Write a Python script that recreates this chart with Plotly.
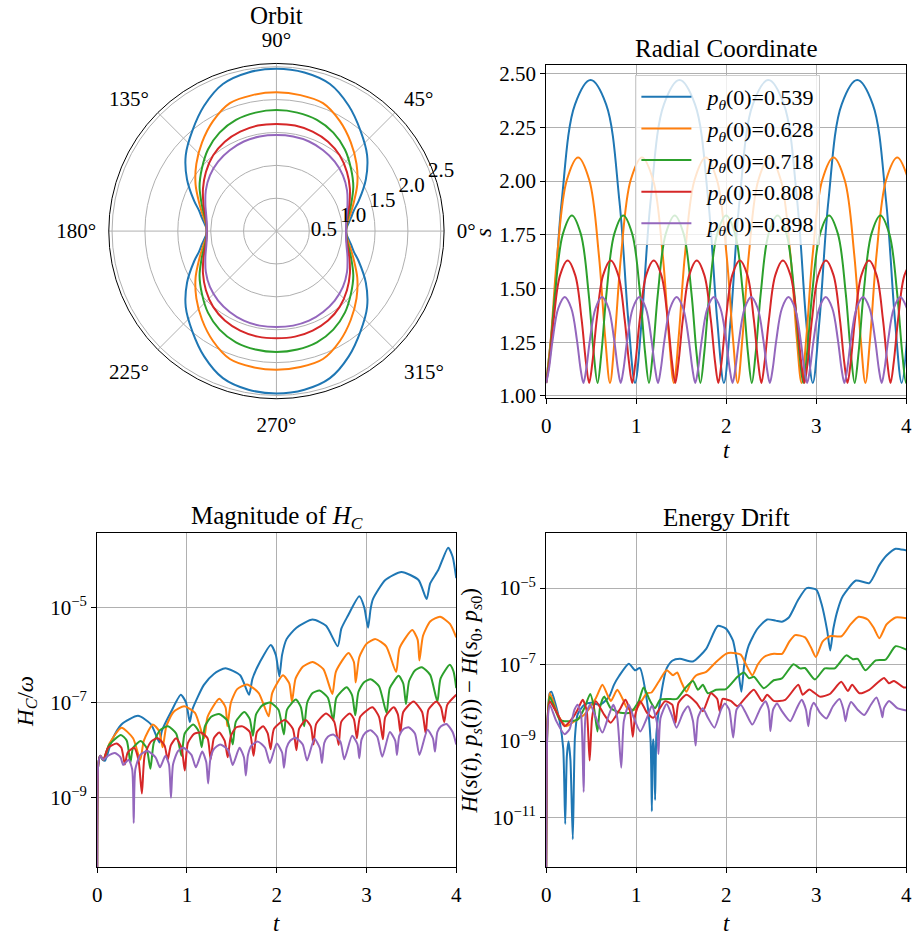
import plotly.graph_objects as go

FONT = "Liberation Serif"
C = ["#1f77b4", "#ff7f0e", "#2ca02c", "#d62728", "#9467bd"]
labels = ["0.539", "0.628", "0.718", "0.808", "0.898"]

# ---------------- Orbit (polar) ----------------
orbit_theta = [0, 3, 6, 10, 15, 20, 30, 40, 50, 60, 70, 80, 90,
               100, 110, 120, 130, 140, 150, 160, 165, 170, 174, 177, 180,
               183, 186, 190, 195, 200, 210, 220, 230, 240, 250, 260, 270,
               280, 290, 300, 310, 320, 330, 340, 345, 350, 354, 357, 360]
orbit_r_blue = [1.06, 1.07, 1.10, 1.15, 1.22, 1.33, 1.57, 1.80, 1.99, 2.20, 2.38, 2.45, 2.47,
                2.45, 2.38, 2.20, 1.99, 1.80, 1.57, 1.33, 1.22, 1.15, 1.10, 1.07, 1.06,
                1.07, 1.10, 1.15, 1.22, 1.33, 1.57, 1.80, 1.99, 2.20, 2.38, 2.45, 2.47,
                2.45, 2.38, 2.20, 1.99, 1.80, 1.57, 1.33, 1.22, 1.15, 1.10, 1.07, 1.06]
orbit_r_orange = [1.06, 1.065, 1.08, 1.12, 1.18, 1.25, 1.42, 1.59, 1.76, 1.93, 2.07, 2.10, 2.11,
                  2.10, 2.07, 1.93, 1.76, 1.59, 1.42, 1.25, 1.18, 1.12, 1.08, 1.065, 1.06,
                  1.065, 1.08, 1.12, 1.18, 1.25, 1.42, 1.59, 1.76, 1.93, 2.07, 2.10, 2.11,
                  2.10, 2.07, 1.93, 1.76, 1.59, 1.42, 1.25, 1.18, 1.12, 1.08, 1.065, 1.06]
orbit_r_green = [1.06, 1.063, 1.075, 1.10, 1.15, 1.21, 1.35, 1.48, 1.62, 1.73, 1.80, 1.83, 1.84,
                 1.83, 1.80, 1.73, 1.62, 1.48, 1.35, 1.21, 1.15, 1.10, 1.075, 1.063, 1.06,
                 1.063, 1.075, 1.10, 1.15, 1.21, 1.35, 1.48, 1.62, 1.73, 1.80, 1.83, 1.84,
                 1.83, 1.80, 1.73, 1.62, 1.48, 1.35, 1.21, 1.15, 1.10, 1.075, 1.063, 1.06]
orbit_r_red = [1.06, 1.062, 1.07, 1.09, 1.13, 1.18, 1.29, 1.40, 1.50, 1.57, 1.61, 1.63, 1.63,
               1.63, 1.61, 1.57, 1.50, 1.40, 1.29, 1.18, 1.13, 1.09, 1.07, 1.062, 1.06,
               1.062, 1.07, 1.09, 1.13, 1.18, 1.29, 1.40, 1.50, 1.57, 1.61, 1.63, 1.63,
               1.63, 1.61, 1.57, 1.50, 1.40, 1.29, 1.18, 1.13, 1.09, 1.07, 1.062, 1.06]
orbit_r_purple = [1.06, 1.061, 1.065, 1.08, 1.11, 1.15, 1.24, 1.32, 1.38, 1.42, 1.45, 1.46, 1.46,
                  1.46, 1.45, 1.42, 1.38, 1.32, 1.24, 1.15, 1.11, 1.08, 1.065, 1.061, 1.06,
                  1.061, 1.065, 1.08, 1.11, 1.15, 1.24, 1.32, 1.38, 1.42, 1.45, 1.46, 1.46,
                  1.46, 1.45, 1.42, 1.38, 1.32, 1.24, 1.15, 1.11, 1.08, 1.065, 1.061, 1.06]

# ---------------- Radial coordinate s(t) ----------------
s_t_blue = [0, 0.074, 0.173, 0.321, 0.494, 0.666, 0.814, 0.913,
            0.987, 1.061, 1.160, 1.308, 1.481, 1.653, 1.801, 1.900,
            1.974, 2.048, 2.147, 2.295, 2.468, 2.640, 2.788, 2.887,
            2.961, 3.035, 3.134, 3.282, 3.455, 3.627, 3.775, 3.874,
            3.948, 4.022]
s_blue = [1.06, 1.35, 1.906, 2.357, 2.47, 2.357, 1.906, 1.35,
          1.06, 1.35, 1.906, 2.357, 2.47, 2.357, 1.906, 1.35,
          1.06, 1.35, 1.906, 2.357, 2.47, 2.357, 1.906, 1.35,
          1.06, 1.35, 1.906, 2.357, 2.47, 2.357, 1.906, 1.35,
          1.06, 1.35]
s_t_orange = [0, 0.053, 0.124, 0.230, 0.355, 0.479, 0.585, 0.656,
              0.709, 0.762, 0.833, 0.939, 1.064, 1.188, 1.294, 1.365,
              1.418, 1.471, 1.542, 1.648, 1.773, 1.897, 2.003, 2.074,
              2.127, 2.180, 2.251, 2.357, 2.482, 2.606, 2.712, 2.783,
              2.836, 2.889, 2.960, 3.066, 3.191, 3.315, 3.421, 3.492,
              3.545, 3.598, 3.669, 3.775, 3.900, 4.024]
s_orange = [1.06, 1.27, 1.659, 2.005, 2.11, 2.005, 1.659, 1.27,
            1.06, 1.27, 1.659, 2.005, 2.11, 2.005, 1.659, 1.27,
            1.06, 1.27, 1.659, 2.005, 2.11, 2.005, 1.659, 1.27,
            1.06, 1.27, 1.659, 2.005, 2.11, 2.005, 1.659, 1.27,
            1.06, 1.27, 1.659, 2.005, 2.11, 2.005, 1.659, 1.27,
            1.06, 1.27, 1.659, 2.005, 2.11, 2.005]
s_t_green = [0, 0.043, 0.100, 0.186, 0.286, 0.385, 0.471, 0.528,
             0.571, 0.614, 0.671, 0.757, 0.857, 0.956, 1.042, 1.099,
             1.142, 1.185, 1.242, 1.328, 1.428, 1.527, 1.613, 1.670,
             1.713, 1.756, 1.813, 1.899, 1.999, 2.098, 2.184, 2.241,
             2.284, 2.327, 2.384, 2.470, 2.570, 2.669, 2.755, 2.812,
             2.855, 2.898, 2.955, 3.041, 3.141, 3.240, 3.326, 3.383,
             3.426, 3.469, 3.526, 3.612, 3.712, 3.811, 3.897, 3.954,
             3.997, 4.040]
s_green = [1.06, 1.20, 1.481, 1.754, 1.84, 1.754, 1.481, 1.20,
           1.06, 1.20, 1.481, 1.754, 1.84, 1.754, 1.481, 1.20,
           1.06, 1.20, 1.481, 1.754, 1.84, 1.754, 1.481, 1.20,
           1.06, 1.20, 1.481, 1.754, 1.84, 1.754, 1.481, 1.20,
           1.06, 1.20, 1.481, 1.754, 1.84, 1.754, 1.481, 1.20,
           1.06, 1.20, 1.481, 1.754, 1.84, 1.754, 1.481, 1.20,
           1.06, 1.20, 1.481, 1.754, 1.84, 1.754, 1.481, 1.20,
           1.06, 1.20]
s_t_red = [0, 0.036, 0.084, 0.155, 0.239, 0.323, 0.394, 0.442,
           0.478, 0.514, 0.562, 0.633, 0.717, 0.801, 0.872, 0.920,
           0.956, 0.992, 1.040, 1.111, 1.195, 1.279, 1.350, 1.398,
           1.434, 1.470, 1.518, 1.589, 1.673, 1.757, 1.828, 1.876,
           1.912, 1.948, 1.996, 2.067, 2.151, 2.235, 2.306, 2.354,
           2.390, 2.426, 2.474, 2.545, 2.629, 2.713, 2.784, 2.832,
           2.868, 2.904, 2.952, 3.023, 3.107, 3.191, 3.262, 3.310,
           3.346, 3.382, 3.430, 3.501, 3.585, 3.669, 3.740, 3.788,
           3.824, 3.860, 3.908, 3.979, 4.063]
s_red = [1.06, 1.157, 1.356, 1.562, 1.63, 1.562, 1.356, 1.157,
         1.06, 1.157, 1.356, 1.562, 1.63, 1.562, 1.356, 1.157,
         1.06, 1.157, 1.356, 1.562, 1.63, 1.562, 1.356, 1.157,
         1.06, 1.157, 1.356, 1.562, 1.63, 1.562, 1.356, 1.157,
         1.06, 1.157, 1.356, 1.562, 1.63, 1.562, 1.356, 1.157,
         1.06, 1.157, 1.356, 1.562, 1.63, 1.562, 1.356, 1.157,
         1.06, 1.157, 1.356, 1.562, 1.63, 1.562, 1.356, 1.157,
         1.06, 1.157, 1.356, 1.562, 1.63, 1.562, 1.356, 1.157,
         1.06, 1.157, 1.356, 1.562, 1.63]
s_t_purple = [0, 0.031, 0.072, 0.135, 0.207, 0.279, 0.342, 0.383,
              0.414, 0.445, 0.486, 0.549, 0.621, 0.693, 0.756, 0.797,
              0.828, 0.859, 0.900, 0.963, 1.035, 1.107, 1.170, 1.211,
              1.242, 1.273, 1.314, 1.377, 1.449, 1.521, 1.584, 1.625,
              1.656, 1.687, 1.728, 1.791, 1.863, 1.935, 1.998, 2.039,
              2.070, 2.101, 2.142, 2.205, 2.277, 2.349, 2.412, 2.453,
              2.484, 2.515, 2.556, 2.619, 2.691, 2.763, 2.826, 2.867,
              2.898, 2.929, 2.970, 3.033, 3.105, 3.177, 3.240, 3.281,
              3.312, 3.343, 3.384, 3.447, 3.519, 3.591, 3.654, 3.695,
              3.726, 3.757, 3.798, 3.861, 3.933, 4.005]
s_purple = [1.06, 1.124, 1.26, 1.408, 1.46, 1.408, 1.26, 1.124,
            1.06, 1.124, 1.26, 1.408, 1.46, 1.408, 1.26, 1.124,
            1.06, 1.124, 1.26, 1.408, 1.46, 1.408, 1.26, 1.124,
            1.06, 1.124, 1.26, 1.408, 1.46, 1.408, 1.26, 1.124,
            1.06, 1.124, 1.26, 1.408, 1.46, 1.408, 1.26, 1.124,
            1.06, 1.124, 1.26, 1.408, 1.46, 1.408, 1.26, 1.124,
            1.06, 1.124, 1.26, 1.408, 1.46, 1.408, 1.26, 1.124,
            1.06, 1.124, 1.26, 1.408, 1.46, 1.408, 1.26, 1.124,
            1.06, 1.124, 1.26, 1.408, 1.46, 1.408, 1.26, 1.124,
            1.06, 1.124, 1.26, 1.408, 1.46, 1.408]

# ---------------- Magnitude of H_C : (t, value) ----------------
hc_blue = [(0, 1e-11), (0.012, 5.01e-9), (0.033, 7.59e-9), (0.06, 6.31e-9), (0.088, 6.03e-9),
           (0.16, 1.55e-8), (0.27, 3.47e-8), (0.455, 5.25e-8), (0.60, 3.47e-8), (0.694, 1.45e-8),
           (0.72, 2.51e-8), (0.822, 6.31e-8), (0.932, 1.45e-7), (0.99, 1.0e-7), (1.032, 3.89e-8),
           (1.06, 7.08e-8), (1.189, 2.34e-7), (1.30, 3.98e-7), (1.428, 5.25e-7), (1.593, 3.72e-7),
           (1.692, 1.45e-7), (1.73, 3.16e-7), (1.813, 7.08e-7), (1.935, 1.62e-6), (1.99, 1.0e-6),
           (2.03, 3.55e-7), (2.06, 1.0e-6), (2.11, 2.14e-6), (2.22, 3.72e-6), (2.40, 5.50e-6),
           (2.55, 4.07e-6), (2.68, 1.51e-6), (2.72, 3.55e-6), (2.79, 6.46e-6), (2.92, 1.70e-5),
           (2.975, 1.0e-5), (3.018, 3.72e-6), (3.045, 8.91e-6), (3.07, 1.45e-5), (3.21, 3.72e-5),
           (3.39, 5.50e-5), (3.58, 3.72e-5), (3.67, 1.48e-5), (3.71, 3.16e-5), (3.80, 6.03e-5),
           (3.91, 1.78e-4), (3.96, 1.15e-4), (4.0, 4.07e-5)]
hc_orange = [(0, 1e-11), (0.012, 5.01e-9), (0.033, 7.59e-9), (0.07, 6.31e-9), (0.14, 1.41e-8),
             (0.27, 2.95e-8), (0.40, 1.78e-8), (0.48, 6.31e-9), (0.52, 1.58e-8), (0.62, 3.47e-8),
             (0.69, 2.51e-8), (0.73, 1.15e-8), (0.77, 3.16e-8), (0.85, 6.31e-8), (0.97, 8.32e-8),
             (1.09, 6.03e-8), (1.19, 1.78e-8), (1.23, 5.01e-8), (1.36, 1.20e-7), (1.43, 7.94e-8),
             (1.45, 3.16e-8), (1.49, 1.0e-7), (1.56, 1.91e-7), (1.67, 2.40e-7), (1.80, 1.58e-7),
             (1.91, 5.13e-8), (1.95, 1.58e-7), (2.07, 3.72e-7), (2.14, 2.51e-7), (2.17, 1.05e-7),
             (2.21, 3.16e-7), (2.29, 5.62e-7), (2.40, 7.08e-7), (2.52, 5.01e-7), (2.62, 1.51e-7),
             (2.66, 4.47e-7), (2.80, 1.10e-6), (2.86, 7.08e-7), (2.88, 2.63e-7), (2.92, 8.91e-7),
             (3.0, 1.70e-6), (3.10, 2.14e-6), (3.22, 1.51e-6), (3.33, 4.37e-7), (3.37, 1.41e-6),
             (3.51, 3.31e-6), (3.57, 2.09e-6), (3.59, 7.59e-7), (3.63, 2.51e-6), (3.71, 5.01e-6),
             (3.82, 6.31e-6), (3.93, 4.47e-6), (4.0, 2.34e-6)]
hc_green = [(0, 1e-11), (0.012, 5.01e-9), (0.033, 7.59e-9), (0.07, 6.31e-9), (0.13, 1.26e-8),
            (0.264, 2.09e-8), (0.33, 1.58e-8), (0.37, 5.50e-9), (0.40, 1.12e-8), (0.485, 1.55e-8),
            (0.55, 1.12e-8), (0.593, 4.07e-9), (0.63, 1.41e-8), (0.70, 2.63e-8), (0.79, 3.16e-8),
            (0.88, 2.24e-8), (0.94, 7.59e-9), (0.975, 2.24e-8), (1.07, 3.47e-8), (1.13, 2.51e-8),
            (1.164, 1.15e-8), (1.20, 3.16e-8), (1.27, 5.01e-8), (1.358, 5.75e-8), (1.45, 4.17e-8),
            (1.51, 1.32e-8), (1.545, 3.98e-8), (1.64, 6.31e-8), (1.70, 4.47e-8), (1.735, 2.0e-8),
            (1.77, 5.62e-8), (1.84, 8.71e-8), (1.927, 1.0e-7), (2.02, 7.08e-8), (2.08, 2.14e-8),
            (2.115, 7.08e-8), (2.214, 1.15e-7), (2.27, 7.94e-8), (2.306, 3.16e-8), (2.34, 1.0e-7),
            (2.40, 1.58e-7), (2.478, 1.78e-7), (2.57, 1.26e-7), (2.63, 4.17e-8), (2.665, 1.26e-7),
            (2.78, 2.09e-7), (2.84, 1.41e-7), (2.875, 5.37e-8), (2.91, 1.66e-7), (2.97, 2.63e-7),
            (3.047, 3.09e-7), (3.14, 2.19e-7), (3.224, 6.03e-8), (3.26, 2.0e-7), (3.359, 3.63e-7),
            (3.41, 2.51e-7), (3.44, 9.33e-8), (3.475, 2.82e-7), (3.54, 4.68e-7), (3.616, 5.50e-7),
            (3.71, 3.80e-7), (3.79, 1.05e-7), (3.825, 3.16e-7), (3.928, 6.17e-7), (3.97, 4.47e-7),
            (4.0, 2.0e-7)]
hc_red = [(0, 1e-11), (0.012, 5.01e-9), (0.033, 7.59e-9), (0.07, 6.31e-9), (0.12, 1.12e-8),
          (0.217, 1.38e-8), (0.27, 1.12e-8), (0.308, 5.01e-9), (0.34, 8.91e-9), (0.41, 1.12e-8),
          (0.46, 6.31e-9), (0.498, 1.23e-9), (0.53, 7.94e-9), (0.60, 1.51e-8), (0.675, 1.78e-8),
          (0.75, 1.26e-8), (0.786, 6.31e-9), (0.82, 1.26e-8), (0.88, 1.78e-8), (0.94, 1.12e-8),
          (0.976, 3.72e-9), (1.01, 1.41e-8), (1.08, 2.19e-8), (1.156, 2.34e-8), (1.23, 1.78e-8),
          (1.264, 6.46e-9), (1.30, 1.78e-8), (1.36, 2.34e-8), (1.42, 1.58e-8), (1.454, 7.08e-9),
          (1.49, 2.0e-8), (1.55, 3.02e-8), (1.62, 3.16e-8), (1.70, 2.40e-8), (1.742, 7.59e-9),
          (1.78, 2.40e-8), (1.85, 3.16e-8), (1.90, 2.24e-8), (1.932, 1.05e-8), (1.97, 2.82e-8),
          (2.09, 4.27e-8), (2.18, 2.82e-8), (2.22, 1.0e-8), (2.25, 2.82e-8), (2.324, 4.27e-8),
          (2.38, 3.16e-8), (2.41, 1.32e-8), (2.44, 3.55e-8), (2.55, 5.89e-8), (2.64, 3.98e-8),
          (2.69, 1.29e-8), (2.72, 3.98e-8), (2.815, 5.89e-8), (2.86, 4.47e-8), (2.893, 1.78e-8),
          (2.93, 5.01e-8), (3.066, 7.94e-8), (3.14, 5.01e-8), (3.183, 1.70e-8), (3.21, 5.01e-8),
          (3.304, 7.94e-8), (3.35, 5.62e-8), (3.378, 2.34e-8), (3.41, 6.31e-8), (3.524, 1.05e-7),
          (3.62, 6.31e-8), (3.66, 2.24e-8), (3.69, 7.08e-8), (3.78, 1.05e-7), (3.83, 7.94e-8),
          (3.866, 3.89e-8), (3.90, 8.91e-8), (4.0, 1.45e-7)]
hc_purple = [(0, 1e-11), (0.012, 5.01e-9), (0.033, 7.59e-9), (0.07, 6.31e-9), (0.12, 7.59e-9),
             (0.198, 8.71e-9), (0.26, 7.08e-9), (0.29, 4.90e-9), (0.35, 6.31e-9), (0.39, 3.98e-9),
             (0.407, 2.95e-10), (0.425, 3.98e-9), (0.48, 7.94e-9), (0.56, 9.55e-9), (0.65, 7.08e-9),
             (0.70, 4.37e-9), (0.76, 7.59e-9), (0.80, 5.01e-9), (0.822, 1.0e-9), (0.845, 5.01e-9),
             (0.90, 9.55e-9), (0.96, 1.12e-8), (1.05, 7.94e-9), (1.10, 4.37e-9), (1.17, 9.33e-9),
             (1.215, 5.62e-9), (1.236, 2.0e-9), (1.26, 6.31e-9), (1.30, 1.05e-8), (1.37, 1.32e-8),
             (1.46, 1.0e-8), (1.51, 4.90e-9), (1.585, 1.12e-8), (1.635, 7.08e-9), (1.656, 2.95e-9),
             (1.68, 7.94e-9), (1.72, 1.26e-8), (1.79, 1.51e-8), (1.87, 1.12e-8), (1.924, 5.37e-9),
             (2.0, 1.38e-8), (2.06, 8.91e-9), (2.081, 4.27e-9), (2.11, 1.12e-8), (2.15, 1.58e-8),
             (2.21, 1.82e-8), (2.29, 1.32e-8), (2.338, 6.03e-9), (2.42, 1.74e-8), (2.48, 1.12e-8),
             (2.504, 5.37e-9), (2.53, 1.41e-8), (2.57, 1.91e-8), (2.63, 2.14e-8), (2.71, 1.51e-8),
             (2.753, 6.46e-9), (2.84, 2.0e-8), (2.90, 1.32e-8), (2.92, 6.76e-9), (2.945, 1.66e-8),
             (2.99, 2.34e-8), (3.047, 2.63e-8), (3.12, 1.91e-8), (3.176, 7.24e-9), (3.26, 2.40e-8),
             (3.32, 1.58e-8), (3.34, 7.94e-9), (3.365, 2.0e-8), (3.41, 2.75e-8), (3.469, 3.02e-8),
             (3.54, 2.24e-8), (3.59, 7.94e-9), (3.68, 2.69e-8), (3.74, 1.78e-8), (3.763, 9.33e-9),
             (3.79, 2.40e-8), (3.83, 3.16e-8), (3.891, 3.55e-8), (3.96, 2.40e-8), (4.0, 1.32e-8)]

# ---------------- Energy drift : (t, value) ----------------
ed_blue = [(0, 3e-13), (0.015, 3.16e-9), (0.04, 1.78e-8), (0.059, 1.95e-8), (0.10, 1.0e-8),
           (0.15, 3.31e-9), (0.19, 6.31e-10), (0.212, 6.76e-12), (0.23, 3.98e-10), (0.249, 9.77e-10),
           (0.27, 3.16e-10), (0.296, 2.69e-12), (0.32, 1.26e-9), (0.35, 5.01e-9), (0.424, 8.91e-9),
           (0.50, 1.0e-8), (0.60, 8.91e-9), (0.70, 1.45e-8), (0.753, 2.95e-8), (0.81, 5.01e-8),
           (0.918, 1.05e-7), (0.99, 7.08e-8), (1.04, 8.13e-8), (1.12, 1.10e-8), (1.16, 1.0e-9),
           (1.174, 1.45e-11), (1.183, 6.31e-10), (1.19, 1.12e-9), (1.20, 5.01e-10), (1.21, 2.88e-11),
           (1.225, 1.58e-9), (1.265, 1.10e-8), (1.338, 7.94e-8), (1.40, 1.26e-7), (1.485, 1.41e-7),
           (1.63, 1.20e-7), (1.777, 2.57e-7), (1.905, 1.02e-6), (1.997, 8.71e-7), (2.074, 4.27e-7),
           (2.128, 8.71e-8), (2.168, 1.95e-8), (2.20, 1.0e-7), (2.25, 3.16e-7), (2.344, 8.51e-7),
           (2.454, 1.51e-6), (2.55, 1.41e-6), (2.618, 1.32e-6), (2.695, 1.70e-6), (2.80, 5.01e-6),
           (2.893, 1.0e-5), (3.0, 9.12e-6), (3.06, 3.72e-6), (3.12, 7.94e-7), (3.155, 2.34e-7),
           (3.19, 8.91e-7), (3.24, 2.82e-6), (3.295, 6.17e-6), (3.44, 1.58e-5), (3.588, 1.35e-5),
           (3.70, 3.98e-5), (3.78, 7.08e-5), (3.88, 1.07e-4), (3.99, 9.77e-5), (4.0, 9.77e-5)]
ed_orange = [(0, 3e-13), (0.015, 3.16e-9), (0.04, 1.78e-8), (0.07, 1.26e-8), (0.13, 4.90e-9),
             (0.223, 2.45e-9), (0.315, 3.31e-9), (0.424, 4.90e-9), (0.552, 1.32e-8), (0.625, 2.95e-8),
             (0.68, 1.62e-8), (0.72, 1.12e-8), (0.79, 2.19e-8), (0.85, 1.26e-8), (0.90, 7.24e-9),
             (0.99, 6.61e-9), (1.06, 1.12e-8), (1.12, 1.78e-8), (1.17, 1.86e-8), (1.25, 3.55e-8),
             (1.338, 7.08e-8), (1.41, 5.25e-8), (1.455, 6.17e-8), (1.50, 3.55e-8), (1.558, 1.95e-8),
             (1.61, 3.55e-8), (1.668, 5.25e-8), (1.777, 6.46e-8), (1.887, 1.17e-7), (1.997, 1.91e-7),
             (2.05, 2.04e-7), (2.16, 1.82e-7), (2.23, 8.91e-8), (2.29, 5.25e-8), (2.35, 1.0e-7),
             (2.42, 1.58e-7), (2.53, 1.91e-7), (2.62, 1.91e-7), (2.70, 3.98e-7), (2.765, 5.89e-7),
             (2.875, 5.13e-7), (2.94, 2.82e-7), (2.995, 1.58e-7), (3.07, 3.98e-7), (3.15, 5.50e-7),
             (3.28, 5.50e-7), (3.38, 1.12e-6), (3.47, 1.78e-6), (3.57, 1.51e-6), (3.64, 8.91e-7),
             (3.70, 4.90e-7), (3.78, 1.12e-6), (3.88, 1.70e-6), (4.0, 1.62e-6)]
ed_green = [(0, 3e-13), (0.015, 3.16e-9), (0.04, 1.45e-8), (0.08, 8.91e-9), (0.15, 3.63e-9),
            (0.205, 3.31e-9), (0.35, 3.63e-9), (0.424, 7.24e-9), (0.49, 1.70e-8), (0.53, 7.94e-9),
            (0.57, 1.78e-9), (0.60, 7.94e-9), (0.644, 1.45e-8), (0.717, 7.24e-9), (0.826, 5.50e-9),
            (0.936, 5.50e-9), (1.028, 1.10e-8), (1.082, 2.51e-8), (1.156, 1.10e-8), (1.21, 7.24e-9),
            (1.265, 1.20e-8), (1.35, 1.26e-8), (1.45, 1.26e-8), (1.55, 2.51e-8), (1.631, 3.72e-8),
            (1.686, 2.19e-8), (1.74, 2.95e-8), (1.796, 1.78e-8), (1.887, 2.19e-8), (1.997, 2.29e-8),
            (2.125, 4.79e-8), (2.198, 6.17e-8), (2.253, 4.37e-8), (2.307, 4.79e-8), (2.417, 2.40e-8),
            (2.527, 3.89e-8), (2.618, 4.37e-8), (2.747, 1.02e-7), (2.82, 7.94e-8), (2.874, 8.13e-8),
            (2.984, 4.07e-8), (3.094, 7.94e-8), (3.204, 7.94e-8), (3.332, 1.74e-7), (3.405, 1.38e-7),
            (3.46, 1.41e-7), (3.544, 7.08e-8), (3.66, 1.29e-7), (3.77, 1.35e-7), (3.88, 3.02e-7),
            (4.0, 2.45e-7)]
ed_red = [(0, 3e-13), (0.015, 3.16e-9), (0.04, 1.10e-8), (0.08, 7.94e-9), (0.13, 4.90e-9),
          (0.205, 2.45e-9), (0.296, 4.07e-9), (0.35, 6.61e-9), (0.406, 1.20e-8), (0.45, 6.31e-9),
          (0.483, 3.09e-10), (0.51, 3.98e-9), (0.552, 1.10e-8), (0.644, 4.90e-9), (0.717, 3.02e-9),
          (0.826, 7.24e-9), (0.88, 1.20e-8), (0.93, 6.31e-9), (0.962, 1.29e-9), (0.99, 4.90e-9),
          (1.046, 1.10e-8), (1.12, 5.50e-9), (1.19, 4.07e-9), (1.32, 1.10e-8), (1.40, 8.91e-9),
          (1.437, 3.02e-9), (1.47, 1.0e-8), (1.558, 1.62e-8), (1.668, 1.0e-8), (1.74, 6.03e-9),
          (1.83, 1.78e-8), (1.90, 1.26e-8), (1.927, 6.03e-9), (1.96, 1.26e-8), (2.05, 1.12e-8),
          (2.125, 8.13e-9), (2.22, 1.41e-8), (2.307, 2.19e-8), (2.399, 1.10e-8), (2.454, 1.62e-8),
          (2.527, 1.12e-8), (2.655, 1.20e-8), (2.8, 2.95e-8), (2.849, 1.62e-8), (2.922, 2.24e-8),
          (3.04, 1.45e-8), (3.15, 1.70e-8), (3.277, 3.55e-8), (3.35, 2.04e-8), (3.398, 2.95e-8),
          (3.478, 1.78e-8), (3.588, 2.19e-8), (3.752, 4.47e-8), (3.807, 3.24e-8), (3.862, 3.72e-8),
          (3.97, 2.51e-8), (4.0, 2.51e-8)]
ed_purple = [(0, 3e-13), (0.015, 2.51e-9), (0.04, 8.91e-9), (0.113, 3.31e-9), (0.205, 1.51e-9),
             (0.26, 2.04e-9), (0.315, 6.61e-9), (0.35, 8.91e-9), (0.388, 4.90e-9), (0.417, 4.68e-11),
             (0.44, 4.90e-9), (0.49, 8.91e-9), (0.552, 4.07e-9), (0.625, 1.66e-9), (0.698, 4.90e-9),
             (0.746, 8.91e-9), (0.79, 4.07e-9), (0.834, 2.0e-10), (0.863, 3.31e-9), (0.918, 8.91e-9),
             (0.973, 4.07e-9), (1.046, 1.78e-9), (1.12, 4.07e-9), (1.174, 8.32e-9), (1.229, 3.16e-9),
             (1.247, 4.57e-10), (1.27, 3.98e-9), (1.338, 9.33e-9), (1.393, 4.90e-9), (1.448, 2.24e-9),
             (1.521, 5.50e-9), (1.576, 8.13e-9), (1.631, 3.31e-9), (1.66, 7.59e-10), (1.686, 4.07e-9),
             (1.74, 7.24e-9), (1.796, 4.07e-9), (1.869, 2.24e-9), (1.942, 6.61e-9), (1.985, 9.55e-9),
             (2.033, 6.61e-9), (2.077, 1.23e-9), (2.114, 6.61e-9), (2.161, 8.91e-9), (2.216, 5.50e-9),
             (2.29, 2.69e-9), (2.38, 7.24e-9), (2.436, 1.10e-8), (2.472, 6.61e-9), (2.49, 1.82e-9),
             (2.52, 6.61e-9), (2.563, 9.55e-9), (2.618, 6.03e-9), (2.71, 3.31e-9), (2.783, 7.24e-9),
             (2.838, 1.20e-8), (2.885, 6.61e-9), (2.911, 2.45e-9), (2.937, 6.61e-9), (2.973, 1.0e-8),
             (3.04, 5.50e-9), (3.112, 3.89e-9), (3.185, 8.13e-9), (3.258, 1.26e-8), (3.302, 6.61e-9),
             (3.324, 3.31e-9), (3.35, 6.61e-9), (3.386, 1.05e-8), (3.459, 6.61e-9), (3.533, 4.79e-9),
             (3.606, 8.91e-9), (3.668, 1.38e-8), (3.716, 6.61e-9), (3.734, 4.17e-9), (3.752, 7.24e-9),
             (3.807, 1.12e-8), (3.899, 7.24e-9), (4.0, 6.31e-9)]

orbit_r = [orbit_r_blue, orbit_r_orange, orbit_r_green, orbit_r_red, orbit_r_purple]
s_t = [s_t_blue, s_t_orange, s_t_green, s_t_red, s_t_purple]
s_v = [s_blue, s_orange, s_green, s_red, s_purple]
hc = [hc_blue, hc_orange, hc_green, hc_red, hc_purple]
ed = [ed_blue, ed_orange, ed_green, ed_red, ed_purple]

fig = go.Figure()
for i in range(5):
    fig.add_trace(go.Scatterpolar(r=orbit_r[i], theta=orbit_theta, mode="lines", subplot="polar",
                                  line=dict(color=C[i], width=2, shape="spline", smoothing=0.9),
                                  showlegend=False, hoverinfo="skip"))
for i in range(5):
    fig.add_trace(go.Scatter(x=s_t[i], y=s_v[i], mode="lines", xaxis="x", yaxis="y",
                             line=dict(color=C[i], width=2, shape="spline", smoothing=1.0),
                             name="\u00a0\u00a0<i>p</i><sub><i>θ</i></sub>(0)=" + labels[i]))
for i in range(5):
    fig.add_trace(go.Scatter(x=[p[0] for p in hc[i]], y=[p[1] for p in hc[i]], mode="lines",
                             xaxis="x2", yaxis="y2", showlegend=False,
                             line=dict(color=C[i], width=2, shape="spline", smoothing=0.6)))
for i in range(5):
    fig.add_trace(go.Scatter(x=[p[0] for p in ed[i]], y=[p[1] for p in ed[i]], mode="lines",
                             xaxis="x3", yaxis="y3", showlegend=False,
                             line=dict(color=C[i], width=2, shape="spline", smoothing=0.6)))

GRID = "#b0b0b0"
TICKF = dict(size=21, family=FONT, color="black")
ax = dict(showgrid=True, gridcolor=GRID, gridwidth=0.8, showline=True, linecolor="black",
          linewidth=1, mirror=True, ticks="outside", ticklen=5, tickwidth=1, tickcolor="black",
          zeroline=False, tickfont=TICKF)
tx = dict(range=[0, 4], tickvals=[0, 1, 2, 3, 4], ticktext=["0", "1", "2", "3", "4"],
          ticklabelstandoff=3)

def sup(n):
    return "10<sup>−%d</sup>" % n

fig.update_layout(
    width=920, height=937, autosize=False,
    margin=dict(l=0, r=0, t=0, b=0),
    paper_bgcolor="white", plot_bgcolor="white",
    font=dict(family=FONT, size=20, color="black"),
    polar=dict(
        domain=dict(x=[0.1138, 0.4834], y=[0.5717, 0.9346]),
        bgcolor="white",
        angularaxis=dict(direction="counterclockwise", rotation=0, tickmode="array",
                         tickvals=[0, 45, 90, 135, 180, 225, 270, 315],
                         ticktext=["0°", "45°", "90°", "135°", "180°", "225°", "270°", "315°"],
                         showgrid=True, gridcolor=GRID, gridwidth=0.8, showline=True,
                         linecolor="black", linewidth=1, ticks="outside", ticklen=8,
                         tickcolor="rgba(0,0,0,0)",
                         tickfont=dict(size=21, family=FONT, color="black")),
        radialaxis=dict(range=[0, 2.55], tickmode="array", tickvals=[0.5, 1.0, 1.5, 2.0, 2.5],
                        ticktext=["0.5", "1.0", "1.5", "2.0", "2.5"],
                        angle=27, tickangle=27, side="clockwise",
                        showline=False, showgrid=True, gridcolor=GRID, gridwidth=0.8, ticks="",
                        tickfont=dict(size=21, family=FONT, color="black")),
    ),
    xaxis=dict(ax, domain=[0.5953, 0.9916], anchor="y", **tx),
    yaxis=dict(ax, domain=[0.5720, 0.9331], anchor="x", range=[0.988, 2.541],
               tickvals=[1.0, 1.25, 1.5, 1.75, 2.0, 2.25, 2.5],
               ticktext=["1.00", "1.25", "1.50", "1.75", "2.00", "2.25", "2.50"]),
    xaxis2=dict(ax, domain=[0.1014, 0.4964], anchor="y2", **tx),
    yaxis2=dict(ax, domain=[0.0644, 0.4261], anchor="x2", type="log", range=[-10.463, -3.448],
                tickvals=[1e-9, 1e-7, 1e-5], ticktext=[sup(9), sup(7), sup(5)]),
    xaxis3=dict(ax, domain=[0.5953, 0.9916], anchor="y3", **tx),
    yaxis3=dict(ax, domain=[0.0644, 0.4261], anchor="x3", type="log", range=[-12.307, -3.567],
                tickvals=[1e-11, 1e-9, 1e-7, 1e-5], ticktext=[sup(11), sup(9), sup(7), sup(5)]),
    legend=dict(x=0.6935, y=0.922, xanchor="left", yanchor="top",
                bgcolor="rgba(255,255,255,0.8)", bordercolor="#cccccc", borderwidth=1,
                font=dict(size=22, family=FONT, color="black"), itemwidth=50),
)

TF = dict(family=FONT, size=25, color="black")
LF = dict(family=FONT, size=23, color="black")
ann = [
    dict(text="Orbit", x=0.2989, y=0.9865, font=TF),
    dict(text="Radial Coordinate", x=0.7935, y=0.9509, font=TF),
    dict(text="Magnitude of <i>H</i><sub><i>C</i></sub>", x=0.2989, y=0.4432, font=TF),
    dict(text="Energy Drift", x=0.7935, y=0.4432, font=TF),
    dict(text="<i>t</i>", x=0.7935, y=0.5155, font=LF),
    dict(text="<i>t</i>", x=0.2989, y=0.004, font=LF),
    dict(text="<i>t</i>", x=0.7935, y=0.004, font=LF),
    dict(text="<i>s</i>", x=0.5272, y=0.7513, font=LF, textangle=-90),
    dict(text="<i>H</i><sub><i>C</i></sub>/<i>ω</i>", x=0.0239, y=0.2444, font=LF, textangle=-90),
    dict(text="<i>H</i>(<i>s</i>(<i>t</i>), <i>p</i><sub><i>s</i></sub>(<i>t</i>)) − <i>H</i>(<i>s</i><sub>0</sub>, <i>p</i><sub><i>s</i>0</sub>)",
         x=0.513, y=0.2444, font=LF, textangle=-90),
]
for a in ann:
    a.update(xref="paper", yref="paper", showarrow=False, xanchor="center", yanchor="middle")
fig.update_layout(annotations=ann)

fig.write_html("out.html", config={"displayModeBar": False})
